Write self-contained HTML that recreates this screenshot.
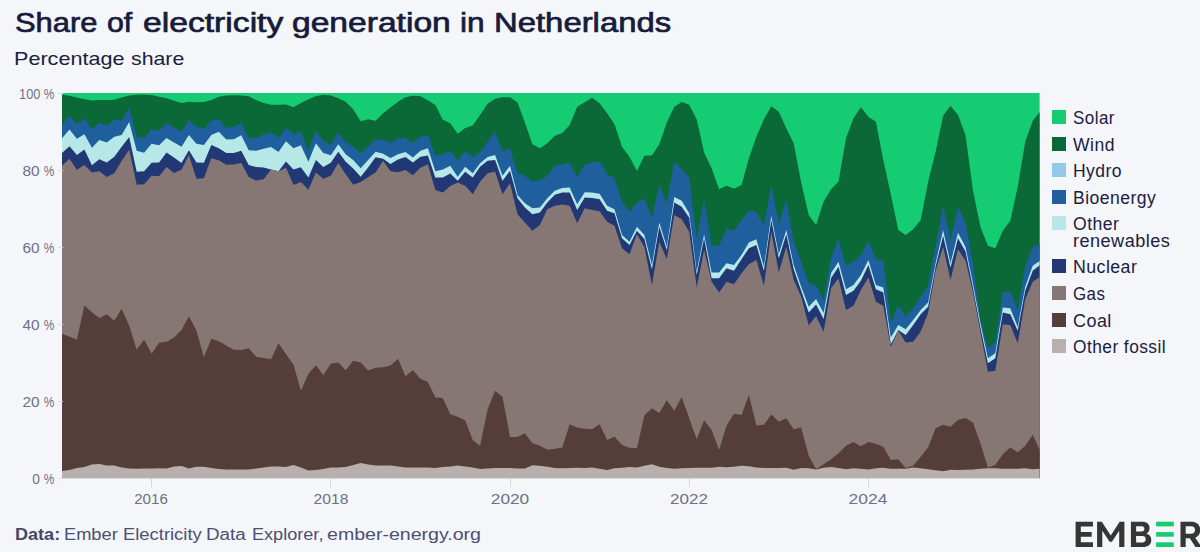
<!DOCTYPE html>
<html><head><meta charset="utf-8"><title>Share of electricity generation in Netherlands</title>
<style>
html,body{margin:0;padding:0}
body{width:1200px;height:552px;background:#f5f6fa;position:relative;overflow:hidden;font-family:"Liberation Sans",sans-serif;color:#1b2140}
.title{position:absolute;left:14px;top:6px;font-size:29px;font-weight:normal;-webkit-text-stroke:0.55px #161c3a;line-height:32px;white-space:nowrap;color:#161c3a;letter-spacing:0.6px;transform-origin:0 0;transform:scaleX(1.085)}
.sub{position:absolute;left:14px;top:47.2px;font-size:18.5px;line-height:24px;white-space:nowrap;color:#1b2140;transform-origin:0 0;letter-spacing:0.5px;transform:scaleX(1.1)}
svg.ch{position:absolute;left:0;top:0}
.yl{position:absolute;left:0;width:54px;text-align:right;font-size:14px;line-height:18px;color:#6b7187;white-space:nowrap}
.dg{display:inline-block;transform-origin:100% 50%}.pc{display:inline-block;margin-left:1.6px;transform-origin:100% 50%;transform:scaleX(0.85)}
.yt{position:absolute;left:58px;width:4.5px;height:1px;background:#dadde8}
.xt{position:absolute;top:478px;width:1px;height:9px;background:#d3d6e0}
.xl{position:absolute;top:490.3px;width:60px;text-align:center;font-size:14px;line-height:18px;color:#6b7187}
.axis{position:absolute;left:62px;top:478px;width:978px;height:1px;background:#d9dbe4}
.sw{position:absolute;left:1052px;width:14px;height:14px}
.lt{position:absolute;left:1072.5px;font-size:17.5px;line-height:17px;color:#1b2140;white-space:nowrap;letter-spacing:0.45px}
.w{position:absolute;white-space:nowrap;transform-origin:0 50%;display:block}
.tw{top:6.5px;font-size:27.5px;line-height:32px;color:#161c3a;-webkit-text-stroke:0.7px #161c3a}
.sw2{top:47.2px;font-size:18.5px;line-height:24px;color:#1b2140}
.fw{top:524.5px;font-size:16px;line-height:20px;color:#4a5073}
.fb{font-weight:bold;color:#434868}
.ls{display:inline-block;transform-origin:0 50%}
.foot{position:absolute;left:14px;top:524.5px;font-size:16px;line-height:20px;color:#4a5073;white-space:nowrap;transform-origin:0 0;letter-spacing:0.5px;transform:scaleX(1.09)}
.foot b{font-weight:bold;color:#434868}
</style></head><body>
<span class="w tw" id="t0" style="left:14.73px;transform:scaleX(1.1233)">Share</span>
<span class="w tw" id="t1" style="left:107.16px;transform:scaleX(1.1000)">of</span>
<span class="w tw" id="t2" style="left:143.11px;transform:scaleX(1.2243)">electricity</span>
<span class="w tw" id="t3" style="left:291.67px;transform:scaleX(1.2217)">generation</span>
<span class="w tw" id="t4" style="left:459.85px;transform:scaleX(1.1500)">in</span>
<span class="w tw" id="t5" style="left:493.81px;transform:scaleX(1.1946)">Netherlands</span>
<span class="w sw2" id="s0" style="left:13.83px;transform:scaleX(1.1677)">Percentage</span>
<span class="w sw2" id="s1" style="left:131.00px;transform:scaleX(1.1522)">share</span>
<span class="w fw fb" id="f0" style="left:15.00px;transform:scaleX(1.1282)">Data:</span>
<span class="w fw" id="f1" style="left:63.72px;transform:scaleX(1.1404)">Ember</span>
<span class="w fw" id="f2" style="left:122.71px;transform:scaleX(1.1500)">Electricity</span>
<span class="w fw" id="f3" style="left:205.82px;transform:scaleX(1.1765)">Data</span>
<span class="w fw" id="f4" style="left:251.87px;transform:scaleX(1.1311)">Explorer,</span>
<span class="w fw" id="f5" style="left:327.00px;transform:scaleX(1.2222)">ember-energy.org</span>
<svg class="ch" width="1200" height="552" viewBox="0 0 1200 552" shape-rendering="geometricPrecision">
<clipPath id="cp"><rect x="62" y="93" width="977.6" height="385.3"/></clipPath>
<g clip-path="url(#cp)">
<path d="M62.0 93.0 L69.5 93.0 L76.9 93.0 L84.4 93.0 L91.9 93.0 L99.3 93.0 L106.8 93.0 L114.3 93.0 L121.7 93.0 L129.2 93.0 L136.7 93.0 L144.1 93.0 L151.6 93.0 L159.1 93.0 L166.5 93.0 L174.0 93.0 L181.5 93.0 L188.9 93.0 L196.4 93.0 L203.9 93.0 L211.3 93.0 L218.8 93.0 L226.3 93.0 L233.7 93.0 L241.2 93.0 L248.7 93.0 L256.1 93.0 L263.6 93.0 L271.1 93.0 L278.5 93.0 L286.0 93.0 L293.5 93.0 L300.9 93.0 L308.4 93.0 L315.9 93.0 L323.3 93.0 L330.8 93.0 L338.3 93.0 L345.7 93.0 L353.2 93.0 L360.7 93.0 L368.1 93.0 L375.6 93.0 L383.1 93.0 L390.5 93.0 L398.0 93.0 L405.5 93.0 L412.9 93.0 L420.4 93.0 L427.9 93.0 L435.3 93.0 L442.8 93.0 L450.3 93.0 L457.7 93.0 L465.2 93.0 L472.7 93.0 L480.1 93.0 L487.6 93.0 L495.1 93.0 L502.5 93.0 L510.0 93.0 L517.5 93.0 L524.9 93.0 L532.4 93.0 L539.9 93.0 L547.3 93.0 L554.8 93.0 L562.3 93.0 L569.7 93.0 L577.2 93.0 L584.7 93.0 L592.1 93.0 L599.6 93.0 L607.1 93.0 L614.5 93.0 L622.0 93.0 L629.5 93.0 L636.9 93.0 L644.4 93.0 L651.9 93.0 L659.3 93.0 L666.8 93.0 L674.3 93.0 L681.7 93.0 L689.2 93.0 L696.7 93.0 L704.1 93.0 L711.6 93.0 L719.1 93.0 L726.5 93.0 L734.0 93.0 L741.5 93.0 L748.9 93.0 L756.4 93.0 L763.9 93.0 L771.3 93.0 L778.8 93.0 L786.3 93.0 L793.7 93.0 L801.2 93.0 L808.7 93.0 L816.1 93.0 L823.6 93.0 L831.1 93.0 L838.5 93.0 L846.0 93.0 L853.5 93.0 L860.9 93.0 L868.4 93.0 L875.9 93.0 L883.3 93.0 L890.8 93.0 L898.3 93.0 L905.7 93.0 L913.2 93.0 L920.7 93.0 L928.1 93.0 L935.6 93.0 L943.1 93.0 L950.5 93.0 L958.0 93.0 L965.5 93.0 L972.9 93.0 L980.4 93.0 L987.9 93.0 L995.3 93.0 L1002.8 93.0 L1010.3 93.0 L1017.7 93.0 L1025.2 93.0 L1032.7 93.0 L1040.1 93.0 L1040.1 478.0 L1032.7 478.0 L1025.2 478.0 L1017.7 478.0 L1010.3 478.0 L1002.8 478.0 L995.3 478.0 L987.9 478.0 L980.4 478.0 L972.9 478.0 L965.5 478.0 L958.0 478.0 L950.5 478.0 L943.1 478.0 L935.6 478.0 L928.1 478.0 L920.7 478.0 L913.2 478.0 L905.7 478.0 L898.3 478.0 L890.8 478.0 L883.3 478.0 L875.9 478.0 L868.4 478.0 L860.9 478.0 L853.5 478.0 L846.0 478.0 L838.5 478.0 L831.1 478.0 L823.6 478.0 L816.1 478.0 L808.7 478.0 L801.2 478.0 L793.7 478.0 L786.3 478.0 L778.8 478.0 L771.3 478.0 L763.9 478.0 L756.4 478.0 L748.9 478.0 L741.5 478.0 L734.0 478.0 L726.5 478.0 L719.1 478.0 L711.6 478.0 L704.1 478.0 L696.7 478.0 L689.2 478.0 L681.7 478.0 L674.3 478.0 L666.8 478.0 L659.3 478.0 L651.9 478.0 L644.4 478.0 L636.9 478.0 L629.5 478.0 L622.0 478.0 L614.5 478.0 L607.1 478.0 L599.6 478.0 L592.1 478.0 L584.7 478.0 L577.2 478.0 L569.7 478.0 L562.3 478.0 L554.8 478.0 L547.3 478.0 L539.9 478.0 L532.4 478.0 L524.9 478.0 L517.5 478.0 L510.0 478.0 L502.5 478.0 L495.1 478.0 L487.6 478.0 L480.1 478.0 L472.7 478.0 L465.2 478.0 L457.7 478.0 L450.3 478.0 L442.8 478.0 L435.3 478.0 L427.9 478.0 L420.4 478.0 L412.9 478.0 L405.5 478.0 L398.0 478.0 L390.5 478.0 L383.1 478.0 L375.6 478.0 L368.1 478.0 L360.7 478.0 L353.2 478.0 L345.7 478.0 L338.3 478.0 L330.8 478.0 L323.3 478.0 L315.9 478.0 L308.4 478.0 L300.9 478.0 L293.5 478.0 L286.0 478.0 L278.5 478.0 L271.1 478.0 L263.6 478.0 L256.1 478.0 L248.7 478.0 L241.2 478.0 L233.7 478.0 L226.3 478.0 L218.8 478.0 L211.3 478.0 L203.9 478.0 L196.4 478.0 L188.9 478.0 L181.5 478.0 L174.0 478.0 L166.5 478.0 L159.1 478.0 L151.6 478.0 L144.1 478.0 L136.7 478.0 L129.2 478.0 L121.7 478.0 L114.3 478.0 L106.8 478.0 L99.3 478.0 L91.9 478.0 L84.4 478.0 L76.9 478.0 L69.5 478.0 L62.0 478.0Z" fill="#16cc72"/>
<path d="M62.0 94.7 L69.5 95.8 L76.9 97.5 L84.4 99.2 L91.9 100.5 L99.3 100.0 L106.8 100.0 L114.3 99.7 L121.7 97.5 L129.2 95.5 L136.7 94.7 L144.1 94.5 L151.6 95.0 L159.1 96.7 L166.5 98.3 L174.0 100.8 L181.5 103.0 L188.9 101.7 L196.4 102.2 L203.9 102.0 L211.3 100.0 L218.8 96.7 L226.3 95.5 L233.7 95.3 L241.2 95.5 L248.7 96.2 L256.1 100.0 L263.6 103.0 L271.1 104.7 L278.5 104.7 L286.0 104.5 L293.5 107.2 L300.9 103.0 L308.4 99.2 L315.9 96.2 L323.3 94.7 L330.8 95.5 L338.3 98.3 L345.7 101.7 L353.2 109.2 L360.7 121.2 L368.1 119.2 L375.6 120.8 L383.1 113.3 L390.5 107.5 L398.0 101.7 L405.5 97.2 L412.9 95.8 L420.4 96.3 L427.9 100.3 L435.3 105.0 L442.8 119.7 L450.3 123.3 L457.7 133.7 L465.2 128.0 L472.7 125.5 L480.1 115.0 L487.6 103.7 L495.1 98.7 L502.5 97.2 L510.0 97.2 L517.5 102.5 L524.9 122.5 L532.4 144.2 L539.9 148.3 L547.3 143.3 L554.8 135.8 L562.3 133.0 L569.7 125.0 L577.2 106.7 L584.7 102.2 L592.1 97.8 L599.6 103.3 L607.1 113.3 L614.5 124.2 L622.0 146.7 L629.5 156.7 L636.9 171.0 L644.4 155.8 L651.9 155.5 L659.3 144.2 L666.8 122.5 L674.3 106.7 L681.7 102.0 L689.2 104.7 L696.7 119.2 L704.1 152.5 L711.6 168.3 L719.1 189.2 L726.5 185.8 L734.0 188.7 L741.5 185.0 L748.9 158.3 L756.4 136.7 L763.9 119.2 L771.3 106.3 L778.8 111.7 L786.3 128.3 L793.7 143.3 L801.2 182.5 L808.7 215.0 L816.1 225.0 L823.6 201.5 L831.1 189.2 L838.5 181.5 L846.0 138.3 L853.5 118.3 L860.9 107.2 L868.4 116.7 L875.9 121.7 L883.3 160.0 L890.8 194.2 L898.3 230.0 L905.7 235.0 L913.2 229.2 L920.7 220.0 L928.1 181.7 L935.6 151.7 L943.1 115.8 L950.5 105.8 L958.0 115.0 L965.5 135.0 L972.9 190.0 L980.4 226.7 L987.9 245.8 L995.3 248.3 L1002.8 230.8 L1010.3 220.8 L1017.7 186.7 L1025.2 141.7 L1032.7 120.8 L1040.1 111.7 L1040.1 478.0 L1032.7 478.0 L1025.2 478.0 L1017.7 478.0 L1010.3 478.0 L1002.8 478.0 L995.3 478.0 L987.9 478.0 L980.4 478.0 L972.9 478.0 L965.5 478.0 L958.0 478.0 L950.5 478.0 L943.1 478.0 L935.6 478.0 L928.1 478.0 L920.7 478.0 L913.2 478.0 L905.7 478.0 L898.3 478.0 L890.8 478.0 L883.3 478.0 L875.9 478.0 L868.4 478.0 L860.9 478.0 L853.5 478.0 L846.0 478.0 L838.5 478.0 L831.1 478.0 L823.6 478.0 L816.1 478.0 L808.7 478.0 L801.2 478.0 L793.7 478.0 L786.3 478.0 L778.8 478.0 L771.3 478.0 L763.9 478.0 L756.4 478.0 L748.9 478.0 L741.5 478.0 L734.0 478.0 L726.5 478.0 L719.1 478.0 L711.6 478.0 L704.1 478.0 L696.7 478.0 L689.2 478.0 L681.7 478.0 L674.3 478.0 L666.8 478.0 L659.3 478.0 L651.9 478.0 L644.4 478.0 L636.9 478.0 L629.5 478.0 L622.0 478.0 L614.5 478.0 L607.1 478.0 L599.6 478.0 L592.1 478.0 L584.7 478.0 L577.2 478.0 L569.7 478.0 L562.3 478.0 L554.8 478.0 L547.3 478.0 L539.9 478.0 L532.4 478.0 L524.9 478.0 L517.5 478.0 L510.0 478.0 L502.5 478.0 L495.1 478.0 L487.6 478.0 L480.1 478.0 L472.7 478.0 L465.2 478.0 L457.7 478.0 L450.3 478.0 L442.8 478.0 L435.3 478.0 L427.9 478.0 L420.4 478.0 L412.9 478.0 L405.5 478.0 L398.0 478.0 L390.5 478.0 L383.1 478.0 L375.6 478.0 L368.1 478.0 L360.7 478.0 L353.2 478.0 L345.7 478.0 L338.3 478.0 L330.8 478.0 L323.3 478.0 L315.9 478.0 L308.4 478.0 L300.9 478.0 L293.5 478.0 L286.0 478.0 L278.5 478.0 L271.1 478.0 L263.6 478.0 L256.1 478.0 L248.7 478.0 L241.2 478.0 L233.7 478.0 L226.3 478.0 L218.8 478.0 L211.3 478.0 L203.9 478.0 L196.4 478.0 L188.9 478.0 L181.5 478.0 L174.0 478.0 L166.5 478.0 L159.1 478.0 L151.6 478.0 L144.1 478.0 L136.7 478.0 L129.2 478.0 L121.7 478.0 L114.3 478.0 L106.8 478.0 L99.3 478.0 L91.9 478.0 L84.4 478.0 L76.9 478.0 L69.5 478.0 L62.0 478.0Z" fill="#0b6837"/>
<path d="M62.0 125.0 L69.5 115.8 L76.9 124.2 L84.4 118.3 L91.9 129.5 L99.3 122.5 L106.8 125.3 L114.3 119.2 L121.7 120.8 L129.2 107.5 L136.7 136.7 L144.1 137.8 L151.6 129.2 L159.1 130.8 L166.5 123.3 L174.0 127.5 L181.5 131.7 L188.9 120.0 L196.4 126.7 L203.9 128.7 L211.3 120.8 L218.8 119.2 L226.3 128.0 L233.7 127.0 L241.2 123.3 L248.7 138.3 L256.1 138.0 L263.6 134.2 L271.1 132.2 L278.5 137.8 L286.0 128.0 L293.5 133.7 L300.9 131.7 L308.4 150.8 L315.9 130.8 L323.3 140.8 L330.8 144.7 L338.3 132.8 L345.7 141.7 L353.2 146.7 L360.7 153.3 L368.1 146.7 L375.6 139.2 L383.1 139.7 L390.5 143.0 L398.0 138.0 L405.5 138.3 L412.9 143.0 L420.4 137.0 L427.9 135.0 L435.3 155.8 L442.8 154.2 L450.3 150.8 L457.7 160.8 L465.2 150.8 L472.7 157.2 L480.1 152.5 L487.6 141.7 L495.1 131.7 L502.5 150.8 L510.0 148.8 L517.5 173.3 L524.9 175.8 L532.4 181.7 L539.9 180.0 L547.3 175.8 L554.8 165.8 L562.3 164.2 L569.7 162.5 L577.2 177.5 L584.7 164.2 L592.1 162.8 L599.6 161.3 L607.1 174.2 L614.5 178.0 L622.0 201.7 L629.5 212.0 L636.9 202.5 L644.4 198.3 L651.9 218.0 L659.3 184.2 L666.8 203.3 L674.3 161.3 L681.7 169.2 L689.2 177.5 L696.7 238.3 L704.1 199.2 L711.6 245.8 L719.1 245.8 L726.5 228.3 L734.0 230.8 L741.5 220.0 L748.9 210.8 L756.4 212.5 L763.9 225.8 L771.3 184.2 L778.8 224.2 L786.3 199.2 L793.7 241.7 L801.2 262.0 L808.7 283.3 L816.1 285.8 L823.6 300.0 L831.1 258.5 L838.5 238.5 L846.0 265.8 L853.5 261.7 L860.9 255.0 L868.4 240.8 L875.9 259.2 L883.3 260.8 L890.8 322.5 L898.3 305.8 L905.7 316.7 L913.2 308.3 L920.7 296.7 L928.1 285.8 L935.6 245.8 L943.1 205.3 L950.5 240.0 L958.0 207.3 L965.5 222.3 L972.9 263.3 L980.4 320.0 L987.9 347.5 L995.3 342.5 L1002.8 292.5 L1010.3 290.8 L1017.7 310.8 L1025.2 265.8 L1032.7 246.7 L1040.1 244.2 L1040.1 478.0 L1032.7 478.0 L1025.2 478.0 L1017.7 478.0 L1010.3 478.0 L1002.8 478.0 L995.3 478.0 L987.9 478.0 L980.4 478.0 L972.9 478.0 L965.5 478.0 L958.0 478.0 L950.5 478.0 L943.1 478.0 L935.6 478.0 L928.1 478.0 L920.7 478.0 L913.2 478.0 L905.7 478.0 L898.3 478.0 L890.8 478.0 L883.3 478.0 L875.9 478.0 L868.4 478.0 L860.9 478.0 L853.5 478.0 L846.0 478.0 L838.5 478.0 L831.1 478.0 L823.6 478.0 L816.1 478.0 L808.7 478.0 L801.2 478.0 L793.7 478.0 L786.3 478.0 L778.8 478.0 L771.3 478.0 L763.9 478.0 L756.4 478.0 L748.9 478.0 L741.5 478.0 L734.0 478.0 L726.5 478.0 L719.1 478.0 L711.6 478.0 L704.1 478.0 L696.7 478.0 L689.2 478.0 L681.7 478.0 L674.3 478.0 L666.8 478.0 L659.3 478.0 L651.9 478.0 L644.4 478.0 L636.9 478.0 L629.5 478.0 L622.0 478.0 L614.5 478.0 L607.1 478.0 L599.6 478.0 L592.1 478.0 L584.7 478.0 L577.2 478.0 L569.7 478.0 L562.3 478.0 L554.8 478.0 L547.3 478.0 L539.9 478.0 L532.4 478.0 L524.9 478.0 L517.5 478.0 L510.0 478.0 L502.5 478.0 L495.1 478.0 L487.6 478.0 L480.1 478.0 L472.7 478.0 L465.2 478.0 L457.7 478.0 L450.3 478.0 L442.8 478.0 L435.3 478.0 L427.9 478.0 L420.4 478.0 L412.9 478.0 L405.5 478.0 L398.0 478.0 L390.5 478.0 L383.1 478.0 L375.6 478.0 L368.1 478.0 L360.7 478.0 L353.2 478.0 L345.7 478.0 L338.3 478.0 L330.8 478.0 L323.3 478.0 L315.9 478.0 L308.4 478.0 L300.9 478.0 L293.5 478.0 L286.0 478.0 L278.5 478.0 L271.1 478.0 L263.6 478.0 L256.1 478.0 L248.7 478.0 L241.2 478.0 L233.7 478.0 L226.3 478.0 L218.8 478.0 L211.3 478.0 L203.9 478.0 L196.4 478.0 L188.9 478.0 L181.5 478.0 L174.0 478.0 L166.5 478.0 L159.1 478.0 L151.6 478.0 L144.1 478.0 L136.7 478.0 L129.2 478.0 L121.7 478.0 L114.3 478.0 L106.8 478.0 L99.3 478.0 L91.9 478.0 L84.4 478.0 L76.9 478.0 L69.5 478.0 L62.0 478.0Z" fill="#1f5f9e"/>
<path d="M62.0 138.3 L69.5 129.5 L76.9 138.7 L84.4 134.2 L91.9 147.8 L99.3 140.0 L106.8 142.5 L114.3 136.7 L121.7 135.0 L129.2 122.0 L136.7 150.8 L144.1 152.8 L151.6 143.7 L159.1 145.3 L166.5 138.0 L174.0 142.5 L181.5 146.7 L188.9 135.0 L196.4 143.7 L203.9 145.0 L211.3 135.0 L218.8 131.7 L226.3 139.5 L233.7 139.2 L241.2 135.3 L248.7 150.3 L256.1 150.8 L263.6 148.7 L271.1 147.0 L278.5 152.0 L286.0 141.3 L293.5 148.3 L300.9 145.3 L308.4 161.7 L315.9 143.3 L323.3 153.0 L330.8 155.3 L338.3 144.2 L345.7 154.2 L353.2 160.0 L360.7 168.3 L368.1 160.0 L375.6 151.7 L383.1 153.7 L390.5 158.0 L398.0 154.2 L405.5 152.0 L412.9 157.5 L420.4 150.8 L427.9 148.3 L435.3 171.2 L442.8 169.5 L450.3 165.8 L457.7 176.7 L465.2 166.7 L472.7 173.3 L480.1 163.3 L487.6 157.0 L495.1 155.0 L502.5 175.8 L510.0 165.8 L517.5 195.0 L524.9 203.3 L532.4 208.3 L539.9 207.5 L547.3 198.3 L554.8 190.8 L562.3 188.0 L569.7 187.5 L577.2 204.2 L584.7 192.2 L592.1 192.5 L599.6 193.7 L607.1 205.8 L614.5 209.2 L622.0 235.0 L629.5 241.7 L636.9 226.7 L644.4 235.0 L651.9 265.0 L659.3 222.5 L666.8 246.7 L674.3 197.0 L681.7 200.8 L689.2 213.2 L696.7 271.7 L704.1 234.2 L711.6 272.5 L719.1 272.5 L726.5 263.3 L734.0 265.0 L741.5 255.0 L748.9 242.5 L756.4 239.2 L763.9 266.7 L771.3 215.8 L778.8 254.2 L786.3 230.0 L793.7 265.0 L801.2 286.7 L808.7 306.7 L816.1 299.0 L823.6 313.0 L831.1 273.0 L838.5 261.7 L846.0 289.2 L853.5 285.0 L860.9 275.0 L868.4 260.0 L875.9 285.0 L883.3 287.5 L890.8 337.5 L898.3 325.0 L905.7 329.2 L913.2 320.0 L920.7 310.0 L928.1 302.5 L935.6 263.3 L943.1 230.0 L950.5 263.3 L958.0 232.8 L965.5 247.0 L972.9 283.3 L980.4 323.3 L987.9 358.3 L995.3 353.3 L1002.8 307.5 L1010.3 308.3 L1017.7 327.0 L1025.2 286.7 L1032.7 265.8 L1040.1 260.8 L1040.1 478.0 L1032.7 478.0 L1025.2 478.0 L1017.7 478.0 L1010.3 478.0 L1002.8 478.0 L995.3 478.0 L987.9 478.0 L980.4 478.0 L972.9 478.0 L965.5 478.0 L958.0 478.0 L950.5 478.0 L943.1 478.0 L935.6 478.0 L928.1 478.0 L920.7 478.0 L913.2 478.0 L905.7 478.0 L898.3 478.0 L890.8 478.0 L883.3 478.0 L875.9 478.0 L868.4 478.0 L860.9 478.0 L853.5 478.0 L846.0 478.0 L838.5 478.0 L831.1 478.0 L823.6 478.0 L816.1 478.0 L808.7 478.0 L801.2 478.0 L793.7 478.0 L786.3 478.0 L778.8 478.0 L771.3 478.0 L763.9 478.0 L756.4 478.0 L748.9 478.0 L741.5 478.0 L734.0 478.0 L726.5 478.0 L719.1 478.0 L711.6 478.0 L704.1 478.0 L696.7 478.0 L689.2 478.0 L681.7 478.0 L674.3 478.0 L666.8 478.0 L659.3 478.0 L651.9 478.0 L644.4 478.0 L636.9 478.0 L629.5 478.0 L622.0 478.0 L614.5 478.0 L607.1 478.0 L599.6 478.0 L592.1 478.0 L584.7 478.0 L577.2 478.0 L569.7 478.0 L562.3 478.0 L554.8 478.0 L547.3 478.0 L539.9 478.0 L532.4 478.0 L524.9 478.0 L517.5 478.0 L510.0 478.0 L502.5 478.0 L495.1 478.0 L487.6 478.0 L480.1 478.0 L472.7 478.0 L465.2 478.0 L457.7 478.0 L450.3 478.0 L442.8 478.0 L435.3 478.0 L427.9 478.0 L420.4 478.0 L412.9 478.0 L405.5 478.0 L398.0 478.0 L390.5 478.0 L383.1 478.0 L375.6 478.0 L368.1 478.0 L360.7 478.0 L353.2 478.0 L345.7 478.0 L338.3 478.0 L330.8 478.0 L323.3 478.0 L315.9 478.0 L308.4 478.0 L300.9 478.0 L293.5 478.0 L286.0 478.0 L278.5 478.0 L271.1 478.0 L263.6 478.0 L256.1 478.0 L248.7 478.0 L241.2 478.0 L233.7 478.0 L226.3 478.0 L218.8 478.0 L211.3 478.0 L203.9 478.0 L196.4 478.0 L188.9 478.0 L181.5 478.0 L174.0 478.0 L166.5 478.0 L159.1 478.0 L151.6 478.0 L144.1 478.0 L136.7 478.0 L129.2 478.0 L121.7 478.0 L114.3 478.0 L106.8 478.0 L99.3 478.0 L91.9 478.0 L84.4 478.0 L76.9 478.0 L69.5 478.0 L62.0 478.0Z" fill="#b5e8e6"/>
<path d="M62.0 153.0 L69.5 146.2 L76.9 155.0 L84.4 149.5 L91.9 165.3 L99.3 159.2 L106.8 162.5 L114.3 156.7 L121.7 146.7 L129.2 137.0 L136.7 171.7 L144.1 171.2 L151.6 162.8 L159.1 162.5 L166.5 152.5 L174.0 157.5 L181.5 163.0 L188.9 150.3 L196.4 162.5 L203.9 162.8 L211.3 145.0 L218.8 148.3 L226.3 153.0 L233.7 153.0 L241.2 150.8 L248.7 165.0 L256.1 167.0 L263.6 167.5 L271.1 169.5 L278.5 171.2 L286.0 161.5 L293.5 169.5 L300.9 167.3 L308.4 177.5 L315.9 160.0 L323.3 167.0 L330.8 162.7 L338.3 151.7 L345.7 161.7 L353.2 168.5 L360.7 176.7 L368.1 167.5 L375.6 157.3 L383.1 158.7 L390.5 164.0 L398.0 159.5 L405.5 157.0 L412.9 162.5 L420.4 156.7 L427.9 155.4 L435.3 177.5 L442.8 177.6 L450.3 173.5 L457.7 180.8 L465.2 171.7 L472.7 177.5 L480.1 166.7 L487.6 160.8 L495.1 160.0 L502.5 180.8 L510.0 170.8 L517.5 198.3 L524.9 207.5 L532.4 214.2 L539.9 212.5 L547.3 202.5 L554.8 194.7 L562.3 192.5 L569.7 192.5 L577.2 210.0 L584.7 197.5 L592.1 198.0 L599.6 199.2 L607.1 210.8 L614.5 213.3 L622.0 238.3 L629.5 245.0 L636.9 230.8 L644.4 239.0 L651.9 269.2 L659.3 226.7 L666.8 250.0 L674.3 202.5 L681.7 206.7 L689.2 217.8 L696.7 275.0 L704.1 238.3 L711.6 278.3 L719.1 278.3 L726.5 268.3 L734.0 270.8 L741.5 259.2 L748.9 248.3 L756.4 245.0 L763.9 270.8 L771.3 220.0 L778.8 258.3 L786.3 234.2 L793.7 269.2 L801.2 290.8 L808.7 312.5 L816.1 304.5 L823.6 319.0 L831.1 278.0 L838.5 266.7 L846.0 295.0 L853.5 290.8 L860.9 280.8 L868.4 265.0 L875.9 289.2 L883.3 292.5 L890.8 344.2 L898.3 330.0 L905.7 335.0 L913.2 325.0 L920.7 314.2 L928.1 306.7 L935.6 266.7 L943.1 235.8 L950.5 267.5 L958.0 238.3 L965.5 251.5 L972.9 287.5 L980.4 327.5 L987.9 363.3 L995.3 358.3 L1002.8 312.5 L1010.3 314.2 L1017.7 330.8 L1025.2 290.8 L1032.7 270.8 L1040.1 265.0 L1040.1 478.0 L1032.7 478.0 L1025.2 478.0 L1017.7 478.0 L1010.3 478.0 L1002.8 478.0 L995.3 478.0 L987.9 478.0 L980.4 478.0 L972.9 478.0 L965.5 478.0 L958.0 478.0 L950.5 478.0 L943.1 478.0 L935.6 478.0 L928.1 478.0 L920.7 478.0 L913.2 478.0 L905.7 478.0 L898.3 478.0 L890.8 478.0 L883.3 478.0 L875.9 478.0 L868.4 478.0 L860.9 478.0 L853.5 478.0 L846.0 478.0 L838.5 478.0 L831.1 478.0 L823.6 478.0 L816.1 478.0 L808.7 478.0 L801.2 478.0 L793.7 478.0 L786.3 478.0 L778.8 478.0 L771.3 478.0 L763.9 478.0 L756.4 478.0 L748.9 478.0 L741.5 478.0 L734.0 478.0 L726.5 478.0 L719.1 478.0 L711.6 478.0 L704.1 478.0 L696.7 478.0 L689.2 478.0 L681.7 478.0 L674.3 478.0 L666.8 478.0 L659.3 478.0 L651.9 478.0 L644.4 478.0 L636.9 478.0 L629.5 478.0 L622.0 478.0 L614.5 478.0 L607.1 478.0 L599.6 478.0 L592.1 478.0 L584.7 478.0 L577.2 478.0 L569.7 478.0 L562.3 478.0 L554.8 478.0 L547.3 478.0 L539.9 478.0 L532.4 478.0 L524.9 478.0 L517.5 478.0 L510.0 478.0 L502.5 478.0 L495.1 478.0 L487.6 478.0 L480.1 478.0 L472.7 478.0 L465.2 478.0 L457.7 478.0 L450.3 478.0 L442.8 478.0 L435.3 478.0 L427.9 478.0 L420.4 478.0 L412.9 478.0 L405.5 478.0 L398.0 478.0 L390.5 478.0 L383.1 478.0 L375.6 478.0 L368.1 478.0 L360.7 478.0 L353.2 478.0 L345.7 478.0 L338.3 478.0 L330.8 478.0 L323.3 478.0 L315.9 478.0 L308.4 478.0 L300.9 478.0 L293.5 478.0 L286.0 478.0 L278.5 478.0 L271.1 478.0 L263.6 478.0 L256.1 478.0 L248.7 478.0 L241.2 478.0 L233.7 478.0 L226.3 478.0 L218.8 478.0 L211.3 478.0 L203.9 478.0 L196.4 478.0 L188.9 478.0 L181.5 478.0 L174.0 478.0 L166.5 478.0 L159.1 478.0 L151.6 478.0 L144.1 478.0 L136.7 478.0 L129.2 478.0 L121.7 478.0 L114.3 478.0 L106.8 478.0 L99.3 478.0 L91.9 478.0 L84.4 478.0 L76.9 478.0 L69.5 478.0 L62.0 478.0Z" fill="#223874"/>
<path d="M62.0 165.8 L69.5 158.7 L76.9 169.7 L84.4 165.0 L91.9 172.5 L99.3 171.3 L106.8 177.0 L114.3 173.3 L121.7 160.8 L129.2 149.7 L136.7 184.7 L144.1 184.2 L151.6 175.8 L159.1 176.3 L166.5 167.0 L174.0 173.0 L181.5 169.7 L188.9 155.0 L196.4 178.7 L203.9 178.3 L211.3 158.3 L218.8 160.3 L226.3 164.7 L233.7 164.5 L241.2 162.8 L248.7 177.0 L256.1 180.5 L263.6 179.2 L271.1 169.5 L278.5 171.2 L286.0 167.8 L293.5 185.0 L300.9 182.0 L308.4 189.7 L315.9 172.5 L323.3 178.8 L330.8 175.8 L338.3 163.0 L345.7 174.2 L353.2 184.7 L360.7 182.0 L368.1 177.2 L375.6 172.5 L383.1 160.8 L390.5 171.3 L398.0 172.2 L405.5 170.0 L412.9 175.3 L420.4 167.8 L427.9 164.2 L435.3 190.0 L442.8 192.5 L450.3 186.0 L457.7 182.5 L465.2 185.8 L472.7 194.2 L480.1 181.7 L487.6 173.3 L495.1 171.7 L502.5 194.2 L510.0 183.3 L517.5 214.2 L524.9 222.5 L532.4 230.8 L539.9 225.0 L547.3 209.2 L554.8 205.8 L562.3 204.5 L569.7 205.8 L577.2 223.3 L584.7 208.3 L592.1 210.0 L599.6 211.3 L607.1 221.7 L614.5 225.8 L622.0 248.3 L629.5 254.2 L636.9 234.2 L644.4 247.0 L651.9 285.0 L659.3 241.7 L666.8 259.2 L674.3 215.0 L681.7 219.2 L689.2 231.7 L696.7 287.5 L704.1 250.0 L711.6 281.7 L719.1 292.5 L726.5 281.7 L734.0 284.2 L741.5 273.3 L748.9 264.2 L756.4 260.0 L763.9 285.8 L771.3 231.7 L778.8 272.5 L786.3 246.7 L793.7 280.0 L801.2 296.7 L808.7 325.5 L816.1 316.0 L823.6 332.0 L831.1 288.0 L838.5 278.5 L846.0 310.0 L853.5 305.8 L860.9 290.0 L868.4 277.5 L875.9 301.7 L883.3 305.8 L890.8 346.7 L898.3 330.8 L905.7 342.5 L913.2 341.7 L920.7 331.5 L928.1 313.0 L935.6 270.8 L943.1 246.7 L950.5 280.0 L958.0 249.2 L965.5 260.8 L972.9 291.7 L980.4 332.0 L987.9 371.7 L995.3 370.8 L1002.8 324.2 L1010.3 325.0 L1017.7 343.3 L1025.2 299.6 L1032.7 281.7 L1040.1 276.7 L1040.1 478.0 L1032.7 478.0 L1025.2 478.0 L1017.7 478.0 L1010.3 478.0 L1002.8 478.0 L995.3 478.0 L987.9 478.0 L980.4 478.0 L972.9 478.0 L965.5 478.0 L958.0 478.0 L950.5 478.0 L943.1 478.0 L935.6 478.0 L928.1 478.0 L920.7 478.0 L913.2 478.0 L905.7 478.0 L898.3 478.0 L890.8 478.0 L883.3 478.0 L875.9 478.0 L868.4 478.0 L860.9 478.0 L853.5 478.0 L846.0 478.0 L838.5 478.0 L831.1 478.0 L823.6 478.0 L816.1 478.0 L808.7 478.0 L801.2 478.0 L793.7 478.0 L786.3 478.0 L778.8 478.0 L771.3 478.0 L763.9 478.0 L756.4 478.0 L748.9 478.0 L741.5 478.0 L734.0 478.0 L726.5 478.0 L719.1 478.0 L711.6 478.0 L704.1 478.0 L696.7 478.0 L689.2 478.0 L681.7 478.0 L674.3 478.0 L666.8 478.0 L659.3 478.0 L651.9 478.0 L644.4 478.0 L636.9 478.0 L629.5 478.0 L622.0 478.0 L614.5 478.0 L607.1 478.0 L599.6 478.0 L592.1 478.0 L584.7 478.0 L577.2 478.0 L569.7 478.0 L562.3 478.0 L554.8 478.0 L547.3 478.0 L539.9 478.0 L532.4 478.0 L524.9 478.0 L517.5 478.0 L510.0 478.0 L502.5 478.0 L495.1 478.0 L487.6 478.0 L480.1 478.0 L472.7 478.0 L465.2 478.0 L457.7 478.0 L450.3 478.0 L442.8 478.0 L435.3 478.0 L427.9 478.0 L420.4 478.0 L412.9 478.0 L405.5 478.0 L398.0 478.0 L390.5 478.0 L383.1 478.0 L375.6 478.0 L368.1 478.0 L360.7 478.0 L353.2 478.0 L345.7 478.0 L338.3 478.0 L330.8 478.0 L323.3 478.0 L315.9 478.0 L308.4 478.0 L300.9 478.0 L293.5 478.0 L286.0 478.0 L278.5 478.0 L271.1 478.0 L263.6 478.0 L256.1 478.0 L248.7 478.0 L241.2 478.0 L233.7 478.0 L226.3 478.0 L218.8 478.0 L211.3 478.0 L203.9 478.0 L196.4 478.0 L188.9 478.0 L181.5 478.0 L174.0 478.0 L166.5 478.0 L159.1 478.0 L151.6 478.0 L144.1 478.0 L136.7 478.0 L129.2 478.0 L121.7 478.0 L114.3 478.0 L106.8 478.0 L99.3 478.0 L91.9 478.0 L84.4 478.0 L76.9 478.0 L69.5 478.0 L62.0 478.0Z" fill="#867774"/>
<path d="M62.0 333.7 L69.5 336.7 L76.9 339.5 L84.4 305.5 L91.9 312.2 L99.3 318.0 L106.8 314.2 L114.3 320.8 L121.7 308.8 L129.2 325.8 L136.7 349.5 L144.1 339.7 L151.6 353.7 L159.1 342.8 L166.5 341.7 L174.0 337.5 L181.5 330.0 L188.9 316.3 L196.4 330.5 L203.9 357.2 L211.3 338.7 L218.8 341.2 L226.3 345.5 L233.7 349.7 L241.2 350.0 L248.7 348.3 L256.1 356.7 L263.6 358.0 L271.1 359.2 L278.5 343.3 L286.0 354.2 L293.5 364.7 L300.9 390.8 L308.4 373.8 L315.9 365.3 L323.3 375.0 L330.8 363.8 L338.3 362.5 L345.7 370.3 L353.2 360.8 L360.7 362.5 L368.1 370.5 L375.6 367.8 L383.1 367.2 L390.5 365.5 L398.0 358.7 L405.5 376.3 L412.9 370.3 L420.4 378.8 L427.9 382.0 L435.3 397.5 L442.8 398.0 L450.3 414.2 L457.7 416.7 L465.2 420.3 L472.7 440.0 L480.1 445.8 L487.6 409.2 L495.1 390.8 L502.5 396.7 L510.0 437.0 L517.5 437.0 L524.9 433.3 L532.4 443.3 L539.9 445.8 L547.3 449.7 L554.8 448.7 L562.3 447.5 L569.7 424.2 L577.2 427.5 L584.7 428.7 L592.1 429.2 L599.6 424.2 L607.1 440.0 L614.5 436.7 L622.0 445.0 L629.5 447.8 L636.9 448.3 L644.4 415.3 L651.9 408.3 L659.3 413.0 L666.8 400.3 L674.3 410.8 L681.7 397.0 L689.2 418.3 L696.7 439.2 L704.1 420.3 L711.6 430.0 L719.1 450.0 L726.5 425.8 L734.0 413.8 L741.5 415.0 L748.9 395.0 L756.4 425.5 L763.9 424.7 L771.3 414.5 L778.8 421.7 L786.3 418.3 L793.7 429.2 L801.2 427.5 L808.7 455.8 L816.1 469.2 L823.6 464.2 L831.1 459.2 L838.5 453.3 L846.0 445.8 L853.5 442.0 L860.9 446.2 L868.4 442.0 L875.9 443.7 L883.3 446.7 L890.8 460.0 L898.3 459.2 L905.7 468.0 L913.2 465.8 L920.7 456.7 L928.1 447.5 L935.6 428.3 L943.1 424.7 L950.5 426.7 L958.0 420.0 L965.5 418.0 L972.9 422.5 L980.4 443.3 L987.9 467.5 L995.3 465.0 L1002.8 454.2 L1010.3 447.5 L1017.7 452.5 L1025.2 445.8 L1032.7 434.7 L1040.1 450.8 L1040.1 478.0 L1032.7 478.0 L1025.2 478.0 L1017.7 478.0 L1010.3 478.0 L1002.8 478.0 L995.3 478.0 L987.9 478.0 L980.4 478.0 L972.9 478.0 L965.5 478.0 L958.0 478.0 L950.5 478.0 L943.1 478.0 L935.6 478.0 L928.1 478.0 L920.7 478.0 L913.2 478.0 L905.7 478.0 L898.3 478.0 L890.8 478.0 L883.3 478.0 L875.9 478.0 L868.4 478.0 L860.9 478.0 L853.5 478.0 L846.0 478.0 L838.5 478.0 L831.1 478.0 L823.6 478.0 L816.1 478.0 L808.7 478.0 L801.2 478.0 L793.7 478.0 L786.3 478.0 L778.8 478.0 L771.3 478.0 L763.9 478.0 L756.4 478.0 L748.9 478.0 L741.5 478.0 L734.0 478.0 L726.5 478.0 L719.1 478.0 L711.6 478.0 L704.1 478.0 L696.7 478.0 L689.2 478.0 L681.7 478.0 L674.3 478.0 L666.8 478.0 L659.3 478.0 L651.9 478.0 L644.4 478.0 L636.9 478.0 L629.5 478.0 L622.0 478.0 L614.5 478.0 L607.1 478.0 L599.6 478.0 L592.1 478.0 L584.7 478.0 L577.2 478.0 L569.7 478.0 L562.3 478.0 L554.8 478.0 L547.3 478.0 L539.9 478.0 L532.4 478.0 L524.9 478.0 L517.5 478.0 L510.0 478.0 L502.5 478.0 L495.1 478.0 L487.6 478.0 L480.1 478.0 L472.7 478.0 L465.2 478.0 L457.7 478.0 L450.3 478.0 L442.8 478.0 L435.3 478.0 L427.9 478.0 L420.4 478.0 L412.9 478.0 L405.5 478.0 L398.0 478.0 L390.5 478.0 L383.1 478.0 L375.6 478.0 L368.1 478.0 L360.7 478.0 L353.2 478.0 L345.7 478.0 L338.3 478.0 L330.8 478.0 L323.3 478.0 L315.9 478.0 L308.4 478.0 L300.9 478.0 L293.5 478.0 L286.0 478.0 L278.5 478.0 L271.1 478.0 L263.6 478.0 L256.1 478.0 L248.7 478.0 L241.2 478.0 L233.7 478.0 L226.3 478.0 L218.8 478.0 L211.3 478.0 L203.9 478.0 L196.4 478.0 L188.9 478.0 L181.5 478.0 L174.0 478.0 L166.5 478.0 L159.1 478.0 L151.6 478.0 L144.1 478.0 L136.7 478.0 L129.2 478.0 L121.7 478.0 L114.3 478.0 L106.8 478.0 L99.3 478.0 L91.9 478.0 L84.4 478.0 L76.9 478.0 L69.5 478.0 L62.0 478.0Z" fill="#553d39"/>
<path d="M62.0 471.0 L69.5 470.0 L76.9 468.0 L84.4 467.0 L91.9 464.4 L99.3 464.0 L106.8 465.6 L114.3 465.6 L121.7 467.4 L129.2 468.4 L136.7 468.8 L144.1 468.6 L151.6 468.4 L159.1 468.2 L166.5 468.4 L174.0 466.6 L181.5 466.0 L188.9 468.4 L196.4 466.8 L203.9 466.8 L211.3 468.0 L218.8 469.0 L226.3 469.4 L233.7 469.4 L241.2 469.4 L248.7 469.6 L256.1 468.6 L263.6 467.4 L271.1 466.6 L278.5 466.4 L286.0 467.0 L293.5 465.0 L300.9 467.5 L308.4 470.4 L315.9 470.0 L323.3 469.0 L330.8 467.6 L338.3 467.6 L345.7 467.0 L353.2 465.0 L360.7 463.0 L368.1 464.4 L375.6 465.4 L383.1 465.6 L390.5 465.6 L398.0 466.4 L405.5 467.4 L412.9 467.4 L420.4 467.4 L427.9 467.4 L435.3 468.0 L442.8 467.0 L450.3 466.6 L457.7 465.6 L465.2 466.6 L472.7 467.6 L480.1 469.0 L487.6 468.6 L495.1 468.0 L502.5 468.0 L510.0 468.0 L517.5 468.4 L524.9 468.4 L532.4 465.3 L539.9 465.8 L547.3 466.7 L554.8 468.0 L562.3 468.3 L569.7 468.0 L577.2 467.7 L584.7 468.0 L592.1 467.5 L599.6 468.7 L607.1 470.0 L614.5 468.3 L622.0 467.8 L629.5 467.0 L636.9 467.5 L644.4 465.8 L651.9 464.2 L659.3 466.7 L666.8 468.0 L674.3 468.7 L681.7 468.3 L689.2 468.0 L696.7 467.8 L704.1 467.8 L711.6 467.8 L719.1 466.7 L726.5 467.2 L734.0 466.7 L741.5 465.8 L748.9 466.2 L756.4 467.5 L763.9 468.0 L771.3 468.0 L778.8 468.0 L786.3 467.8 L793.7 469.7 L801.2 468.0 L808.7 468.3 L816.1 469.5 L823.6 467.8 L831.1 467.0 L838.5 468.0 L846.0 469.2 L853.5 468.3 L860.9 468.8 L868.4 469.5 L875.9 468.3 L883.3 467.8 L890.8 468.7 L898.3 468.8 L905.7 468.8 L913.2 467.5 L920.7 468.3 L928.1 469.2 L935.6 470.3 L943.1 471.2 L950.5 469.7 L958.0 470.0 L965.5 469.7 L972.9 469.5 L980.4 468.8 L987.9 468.3 L995.3 468.3 L1002.8 468.7 L1010.3 468.8 L1017.7 468.7 L1025.2 468.3 L1032.7 469.2 L1040.1 468.8 L1040.1 478.0 L1032.7 478.0 L1025.2 478.0 L1017.7 478.0 L1010.3 478.0 L1002.8 478.0 L995.3 478.0 L987.9 478.0 L980.4 478.0 L972.9 478.0 L965.5 478.0 L958.0 478.0 L950.5 478.0 L943.1 478.0 L935.6 478.0 L928.1 478.0 L920.7 478.0 L913.2 478.0 L905.7 478.0 L898.3 478.0 L890.8 478.0 L883.3 478.0 L875.9 478.0 L868.4 478.0 L860.9 478.0 L853.5 478.0 L846.0 478.0 L838.5 478.0 L831.1 478.0 L823.6 478.0 L816.1 478.0 L808.7 478.0 L801.2 478.0 L793.7 478.0 L786.3 478.0 L778.8 478.0 L771.3 478.0 L763.9 478.0 L756.4 478.0 L748.9 478.0 L741.5 478.0 L734.0 478.0 L726.5 478.0 L719.1 478.0 L711.6 478.0 L704.1 478.0 L696.7 478.0 L689.2 478.0 L681.7 478.0 L674.3 478.0 L666.8 478.0 L659.3 478.0 L651.9 478.0 L644.4 478.0 L636.9 478.0 L629.5 478.0 L622.0 478.0 L614.5 478.0 L607.1 478.0 L599.6 478.0 L592.1 478.0 L584.7 478.0 L577.2 478.0 L569.7 478.0 L562.3 478.0 L554.8 478.0 L547.3 478.0 L539.9 478.0 L532.4 478.0 L524.9 478.0 L517.5 478.0 L510.0 478.0 L502.5 478.0 L495.1 478.0 L487.6 478.0 L480.1 478.0 L472.7 478.0 L465.2 478.0 L457.7 478.0 L450.3 478.0 L442.8 478.0 L435.3 478.0 L427.9 478.0 L420.4 478.0 L412.9 478.0 L405.5 478.0 L398.0 478.0 L390.5 478.0 L383.1 478.0 L375.6 478.0 L368.1 478.0 L360.7 478.0 L353.2 478.0 L345.7 478.0 L338.3 478.0 L330.8 478.0 L323.3 478.0 L315.9 478.0 L308.4 478.0 L300.9 478.0 L293.5 478.0 L286.0 478.0 L278.5 478.0 L271.1 478.0 L263.6 478.0 L256.1 478.0 L248.7 478.0 L241.2 478.0 L233.7 478.0 L226.3 478.0 L218.8 478.0 L211.3 478.0 L203.9 478.0 L196.4 478.0 L188.9 478.0 L181.5 478.0 L174.0 478.0 L166.5 478.0 L159.1 478.0 L151.6 478.0 L144.1 478.0 L136.7 478.0 L129.2 478.0 L121.7 478.0 L114.3 478.0 L106.8 478.0 L99.3 478.0 L91.9 478.0 L84.4 478.0 L76.9 478.0 L69.5 478.0 L62.0 478.0Z" fill="#b8b0ad"/>
</g>
</svg>
<div class="axis"></div>
<div class="yl" style="top:470.2px"><span class="dg" style="transform:scaleX(0.98)">0</span><span class="pc">%</span></div>
<div class="yt" style="top:477.8px"></div>
<div class="yl" style="top:393.2px"><span class="dg" style="transform:scaleX(1.10)">20</span><span class="pc">%</span></div>
<div class="yt" style="top:400.8px"></div>
<div class="yl" style="top:316.2px"><span class="dg" style="transform:scaleX(1.10)">40</span><span class="pc">%</span></div>
<div class="yt" style="top:323.8px"></div>
<div class="yl" style="top:239.2px"><span class="dg" style="transform:scaleX(1.10)">60</span><span class="pc">%</span></div>
<div class="yt" style="top:246.8px"></div>
<div class="yl" style="top:162.2px"><span class="dg" style="transform:scaleX(1.10)">80</span><span class="pc">%</span></div>
<div class="yt" style="top:169.8px"></div>
<div class="yl" style="top:85.2px"><span class="dg" style="transform:scaleX(0.91)">100</span><span class="pc">%</span></div>
<div class="yt" style="top:92.8px"></div>
<div class="xt" style="left:151.1px"></div><div class="xl" style="left:121.3px;transform:scaleX(1.079)">2016</div>
<div class="xt" style="left:330.3px"></div><div class="xl" style="left:300.5px;transform:scaleX(1.119)">2018</div>
<div class="xt" style="left:509.5px"></div><div class="xl" style="left:479.7px;transform:scaleX(1.235)">2020</div>
<div class="xt" style="left:688.7px"></div><div class="xl" style="left:658.9px;transform:scaleX(1.215)">2022</div>
<div class="xt" style="left:867.9px"></div><div class="xl" style="left:838.1px;transform:scaleX(1.245)">2024</div>
<div class="sw" style="top:110.0px;background:#16cc72"></div><div class="lt" style="top:110.0px"><span class="ls" id="ls0" style="transform:scaleX(0.9719)">Solar</span></div>
<div class="sw" style="top:136.6px;background:#0b6837"></div><div class="lt" style="top:136.6px"><span class="ls" id="ls1" style="transform:scaleX(1.0055)">Wind</span></div>
<div class="sw" style="top:163.3px;background:#94c9ec"></div><div class="lt" style="top:163.3px"><span class="ls" id="ls2" style="transform:scaleX(1.0023)">Hydro</span></div>
<div class="sw" style="top:189.7px;background:#1f5f9e"></div><div class="lt" style="top:189.7px"><span class="ls" id="ls3" style="transform:scaleX(1.0053)">Bioenergy</span></div>
<div class="sw" style="top:216.2px;background:#b5e8e6"></div><div class="lt" style="top:216.2px"><span class="ls" id="ls4" style="transform:scaleX(1.0058)">Other</span><br><span class="ls" id="ls5" style="transform:scaleX(1.0351)">renewables</span></div>
<div class="sw" style="top:259.3px;background:#223874"></div><div class="lt" style="top:259.3px"><span class="ls" id="ls6" style="transform:scaleX(1.0133)">Nuclear</span></div>
<div class="sw" style="top:286.0px;background:#867774"></div><div class="lt" style="top:286.0px"><span class="ls" id="ls7" style="transform:scaleX(0.9655)">Gas</span></div>
<div class="sw" style="top:312.5px;background:#553d39"></div><div class="lt" style="top:312.5px"><span class="ls" id="ls8" style="transform:scaleX(1.0265)">Coal</span></div>
<div class="sw" style="top:339.0px;background:#b8b0ad"></div><div class="lt" style="top:339.0px"><span class="ls" id="ls9" style="transform:scaleX(0.9909)">Other fossil</span></div>

<svg class="ch" width="1200" height="552" viewBox="0 0 1200 552">
<g fill="#363636">
<path d="M1075.6 521.7h17.4v4.7h-12.2v5.7h10.9v4.6h-10.9v5.6h12.2v4.7h-17.400z"/>
<path d="M1097.100 547V521.7h4.700l8.950 13.800 8.950-13.800h4.700V547h-5.200V530.800l-7.300 11h-2.300l-7.300-11V547z"/>
<path fill-rule="evenodd" d="M1130.900 521.700H1142.500C1147 521.700 1149.600 524.200 1149.600 528C1149.600 530.600 1148.400 532.600 1146.300 533.600C1149.400 534.500 1151.300 536.800 1151.300 540C1151.300 544.400 1148 547 1142.900 547H1130.900ZM1136.100 526.200V531.500H1141.800C1143.500 531.500 1144.400 530.500 1144.400 528.850C1144.400 527.200 1143.500 526.200 1141.800 526.200ZM1136.100 536.100V542.500H1142.500C1144.600 542.500 1145.700 541.300 1145.700 539.300C1145.700 537.300 1144.600 536.100 1142.500 536.100Z"/>
<path fill-rule="evenodd" d="M1180.500 521.700H1191.500C1197 521.700 1200.200 525 1200.200 530C1200.200 533.800 1198.300 536.500 1195.200 537.700L1201.500 547H1195.500L1189.800 538.300H1185.700V547H1180.500ZM1185.700 526.300V533.700H1191C1193.600 533.700 1195 532.300 1195 530C1195 527.700 1193.600 526.300 1191 526.300Z"/>
</g>
<g fill="#16cc72"><rect x="1156.100" y="521.700" width="17.700" height="4.700"/><rect x="1156.100" y="532.100" width="17.700" height="4.600"/><rect x="1156.100" y="542.300" width="17.700" height="4.700"/></g>
</svg>
</body></html>
